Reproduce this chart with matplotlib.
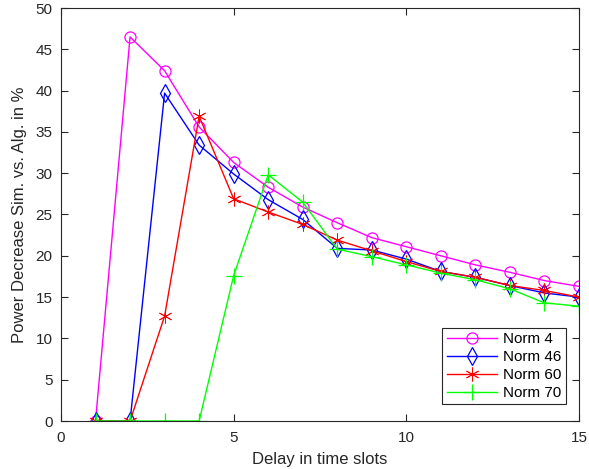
import matplotlib
matplotlib.use("Agg")
import matplotlib.pyplot as plt

plt.rcParams['font.family'] = ['Liberation Sans', 'DejaVu Sans']

delay = [1, 2, 3, 4, 5, 6, 7, 8, 9, 10, 11, 12, 13, 14, 15]
norm4 = [0, 46.5, 42.4, 35.6, 31.3, 28.3, 25.9, 24.0, 22.2, 21.1, 20.0, 18.9, 18.0, 17.0, 16.3]
norm46 = [0, 0, 39.7, 33.4, 29.9, 26.8, 24.4, 20.9, 20.7, 19.6, 18.1, 17.4, 16.4, 15.5, 15.0]
norm60 = [0, 0, 12.7, 36.9, 26.9, 25.3, 23.8, 21.9, 20.6, 19.3, 18.1, 17.4, 16.4, 15.8, 15.0]
norm70 = [0, 0, 0, 0, 17.6, 29.8, 26.5, 20.8, 19.9, 18.9, 17.9, 17.1, 16.0, 14.3, 13.9]

series = [
    ("Norm 4", norm4, "#ff00ff", "o"),
    ("Norm 46", norm46, "#0000ff", "d"),
    ("Norm 60", norm60, "#ff0000", "*"),
    ("Norm 70", norm70, "#00ff00", "+"),
]

fig = plt.figure(figsize=(5.89, 4.69), dpi=100)
ax = fig.add_axes([61 / 589, 48 / 469, 518 / 589, 413 / 469])

for label, vals, color, marker in series:
    kw = dict(markerfacecolor="none", markeredgecolor=color, markeredgewidth=0.9)
    ms = 8
    if marker == "*":
        ms = 10
        kw = dict(markerfacecolor=color, markeredgecolor=color, markeredgewidth=0.6)
        marker = (6, 2, 0)
    if marker == "+":
        ms = 11
    if marker == "d":
        ms = 9
    ax.plot(delay, vals, color=color, lw=1.0, marker=marker, markersize=ms,
            label=label, **kw)

ax.set_xlim(0, 15)
ax.set_ylim(0, 50)
ax.set_xticks([0, 5, 10, 15])
ax.set_yticks(range(0, 51, 5))

edge = "#262626"
for s in ax.spines.values():
    s.set_color(edge)
    s.set_linewidth(0.8)
ax.tick_params(direction="in", top=True, right=True, length=5, width=0.8,
               colors=edge, labelsize=11)
ax.tick_params(axis="x", pad=7)
ax.tick_params(axis="y", pad=6)

ax.set_xlabel("Delay in time slots", fontsize=12, color=edge, labelpad=5)
ax.set_ylabel("Power Decrease Sim. vs. Alg. in %", fontsize=12, color=edge, labelpad=6)

leg = ax.legend(loc="lower right", bbox_to_anchor=(0.975, 0.04), borderaxespad=0,
                fontsize=11, fancybox=False, framealpha=1, edgecolor=edge,
                handlelength=3.3, borderpad=0.3, labelspacing=0.25, handletextpad=0.4)
leg.get_frame().set_linewidth(0.8)

fig.savefig("out.png", dpi=100)
